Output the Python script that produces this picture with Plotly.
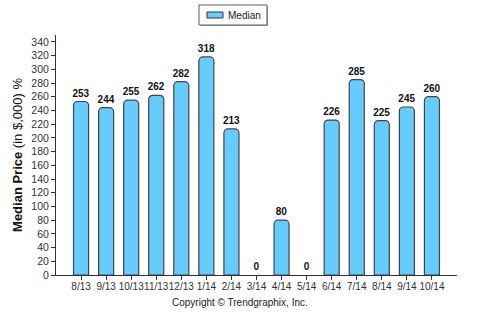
import plotly.graph_objects as go

months = ["8/13", "9/13", "10/13", "11/13", "12/13", "1/14", "2/14", "3/14",
          "4/14", "5/14", "6/14", "7/14", "8/14", "9/14", "10/14"]
median = [253, 244, 255, 262, 282, 318, 213, 0, 80, 0, 226, 285, 225, 245, 260]
yticks = list(range(0, 341, 20))

x_idx = list(range(len(months)))
line_w = [1.2 if v > 0 else 0 for v in median]

fig = go.Figure()
fig.add_trace(go.Bar(
    x=x_idx, y=median, name="Median", width=0.6, showlegend=False,
    marker=dict(color="#66CCFF", line=dict(color="#444444", width=line_w), cornerradius=4),
    text=[str(v) for v in median], textposition="outside", constraintext="none",
    textfont=dict(family="Arial, Liberation Sans", size=10, color="#111111", weight="bold"),
    cliponaxis=False,
))

def px_x(p):
    return (p - 56) / 401

def px_y(p):
    return (275 - p) / 240

shapes = [
    dict(type="rect", xref="paper", yref="paper", x0=px_x(200), x1=px_x(268), y0=px_y(26), y1=px_y(6),
         line=dict(width=0), fillcolor="#9aa0aa", layer="above"),
    dict(type="rect", xref="paper", yref="paper", x0=px_x(199), x1=px_x(267), y0=px_y(25), y1=px_y(5),
         line=dict(color="#556070", width=1), fillcolor="white", layer="above"),
    dict(type="rect", xref="paper", yref="paper", x0=px_x(207), x1=px_x(223), y0=px_y(18), y1=px_y(12),
         line=dict(color="#333333", width=1), fillcolor="#66CCFF", layer="above"),
]

fig.update_layout(
    width=484, height=324,
    margin=dict(l=56, r=27, t=35, b=49),
    plot_bgcolor="white", paper_bgcolor="white",
    font=dict(family="Arial, Liberation Sans", size=11, color="#333333"),
    showlegend=False,
    shapes=shapes,
    xaxis=dict(range=[-1, len(months)], tickmode="array", tickvals=x_idx, ticktext=months,
               tickangle=0, ticklabelstandoff=-2,
               showline=True, linecolor="#333333", linewidth=1, ticks="outside",
               ticklen=4, tickcolor="#333333", showgrid=False, zeroline=False,
               tickfont=dict(size=10, color="#333333")),
    yaxis=dict(range=[0, 350], tickmode="array", tickvals=yticks,
               showline=True, linecolor="#333333", linewidth=1, ticks="outside",
               ticklen=4, tickcolor="#333333", showgrid=False, zeroline=False,
               tickfont=dict(size=10.5, color="#333333"),
               title=dict(text="<b>Median Price</b> (in $,000) %", standoff=5,
                          font=dict(size=13, color="#111111"))),
    annotations=[
        dict(text="Median", xref="paper", yref="paper", x=px_x(226), y=px_y(15),
             xanchor="left", yanchor="middle", showarrow=False,
             font=dict(size=10, color="#222222")),
        dict(text="Copyright \u00a9 Trendgraphix, Inc.", xref="paper", yref="paper",
             x=px_x(240), y=px_y(302), xanchor="center", yanchor="middle", showarrow=False,
             font=dict(size=10, color="#222222")),
    ],
)
fig.write_html("out.html")
